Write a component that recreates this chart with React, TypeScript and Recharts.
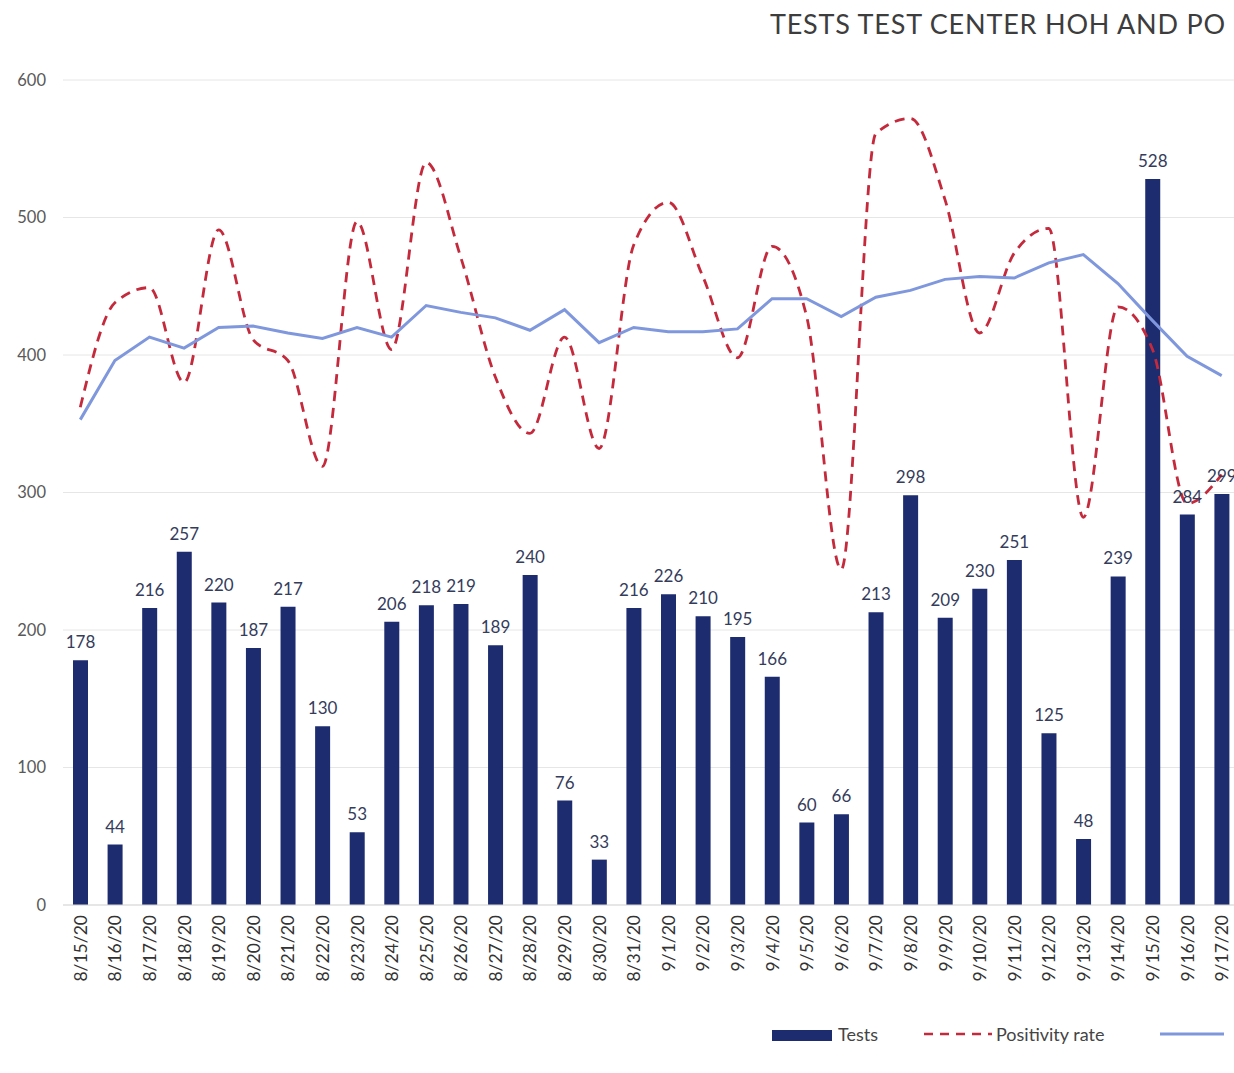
import {
  ComposedChart,
  Bar,
  Line,
  XAxis,
  YAxis,
  CartesianGrid,
  Legend,
  LabelList,
} from "recharts";

const DATES = [
  "8/15/20", "8/16/20", "8/17/20", "8/18/20", "8/19/20", "8/20/20", "8/21/20",
  "8/22/20", "8/23/20", "8/24/20", "8/25/20", "8/26/20", "8/27/20", "8/28/20",
  "8/29/20", "8/30/20", "8/31/20", "9/1/20", "9/2/20", "9/3/20", "9/4/20",
  "9/5/20", "9/6/20", "9/7/20", "9/8/20", "9/9/20", "9/10/20", "9/11/20",
  "9/12/20", "9/13/20", "9/14/20", "9/15/20", "9/16/20", "9/17/20",
];

const TESTS = [
  178, 44, 216, 257, 220, 187, 217, 130, 53, 206, 218, 219, 189, 240, 76, 33,
  216, 226, 210, 195, 166, 60, 66, 213, 298, 209, 230, 251, 125, 48, 239, 528,
  284, 299,
];

// positivity rate, read off in left-axis units (its own axis is not shown)
const POSITIVITY = [
  362, 438, 449, 380, 491, 411, 396, 319, 497, 404, 540, 471, 384, 343, 413, 332,
  480, 511, 457, 398, 479, 428, 244, 561, 572, 513, 416, 474, 492, 282, 435, 404,
  292, 313,
];

const TREND = [
  353, 396, 413, 405, 420, 421, 416, 412, 420, 413, 436, 431, 427, 418, 433, 409,
  420, 417, 417, 419, 441, 441, 428, 442, 447, 455, 457, 456, 467, 473, 452, 425,
  399, 385,
];

const Y_TICKS = [0, 100, 200, 300, 400, 500, 600];

const FONT = "Lato, 'Open Sans', sans-serif";
const NAVY = "#1d2b6f";
const RED = "#c42a3c";
const BLUE = "#7f97dc";

const data = DATES.map((d, i) => ({
  date: d,
  tests: TESTS[i],
  positivity: POSITIVITY[i],
  trend: TREND[i],
}));

const DateTick = (props: any) => {
  const { x, y, payload } = props;
  return (
    <text
      x={x}
      y={y}
      transform={`rotate(-90 ${x} ${y})`}
      textAnchor="end"
      dominantBaseline="central"
      fontSize={17.5}
      fill="#333"
      fontFamily={FONT}
    >
      {payload.value}
    </text>
  );
};

const LegendBox = () => {
  const text = { fontSize: 18, color: "#444", fontFamily: FONT };
  return (
    <div style={{ position: "relative", height: 30, width: 1300 }}>
      <div style={{ position: "absolute", left: 772, top: 9, width: 60, height: 11, background: NAVY }} />
      <span style={{ ...text, position: "absolute", left: 838, top: 2 }}>Tests</span>
      <svg style={{ position: "absolute", left: 924, top: 10 }} width={68} height={6}>
        <line x1={0} y1={3} x2={68} y2={3} stroke={RED} strokeWidth={2.5} strokeDasharray="9 7" />
      </svg>
      <span style={{ ...text, position: "absolute", left: 996, top: 2 }}>Positivity rate</span>
      <svg style={{ position: "absolute", left: 1160, top: 10 }} width={64} height={6}>
        <line x1={0} y1={3} x2={64} y2={3} stroke={BLUE} strokeWidth={3} />
      </svg>
    </div>
  );
};

export default function App() {
  return (
    <div
      style={{
        position: "fixed",
        left: 0,
        top: 0,
        width: 1234,
        height: 1073,
        overflow: "hidden",
        background: "#fff",
        fontFamily: FONT,
      }}
    >
      <div
        style={{
          position: "absolute",
          right: 8,
          top: 7,
          fontSize: 27,
          color: "#3d3d3d",
          letterSpacing: 0.8,
          whiteSpace: "nowrap",
        }}
      >
        TESTS TEST CENTER HOH AND PO
      </div>
      <ComposedChart
        width={1242}
        height={1073}
        data={data}
        margin={{ top: 80, right: 3, bottom: 168 - 90, left: 0 }}
        barCategoryGap={0}
      >
        <CartesianGrid vertical={false} stroke="#e6e6e6" />
        <XAxis
          dataKey="date"
          interval={0}
          height={90}
          tick={<DateTick />}
          tickLine={false}
          tickSize={0}
          tickMargin={10}
          axisLine={{ stroke: "#d9d9d9" }}
        />
        <YAxis
          width={63}
          domain={[0, 600]}
          ticks={Y_TICKS}
          axisLine={false}
          tickLine={false}
          tickSize={0}
          tickMargin={17}
          tick={{ fontSize: 16.5, fill: "#595959", fontFamily: FONT }}
        />
        <Legend
          verticalAlign="middle"
          align="center"
          content={<LegendBox />}
          wrapperStyle={{ top: 1021, left: 0, width: 1300 }}
        />
        <Bar dataKey="tests" name="Tests" fill={NAVY} barSize={15} isAnimationActive={false}>
          <LabelList
            dataKey="tests"
            position="top"
            offset={12}
            fontSize={17}
            fill="#343c5c"
            fontFamily={FONT}
          />
        </Bar>
        <Line
          type="monotone"
          dataKey="positivity"
          name="Positivity rate"
          stroke={RED}
          strokeWidth={2.8}
          strokeDasharray="10 7"
          dot={false}
          isAnimationActive={false}
        />
        <Line
          type="linear"
          dataKey="trend"
          name="Trend"
          stroke={BLUE}
          strokeWidth={3}
          dot={false}
          isAnimationActive={false}
        />
      </ComposedChart>
    </div>
  );
}
